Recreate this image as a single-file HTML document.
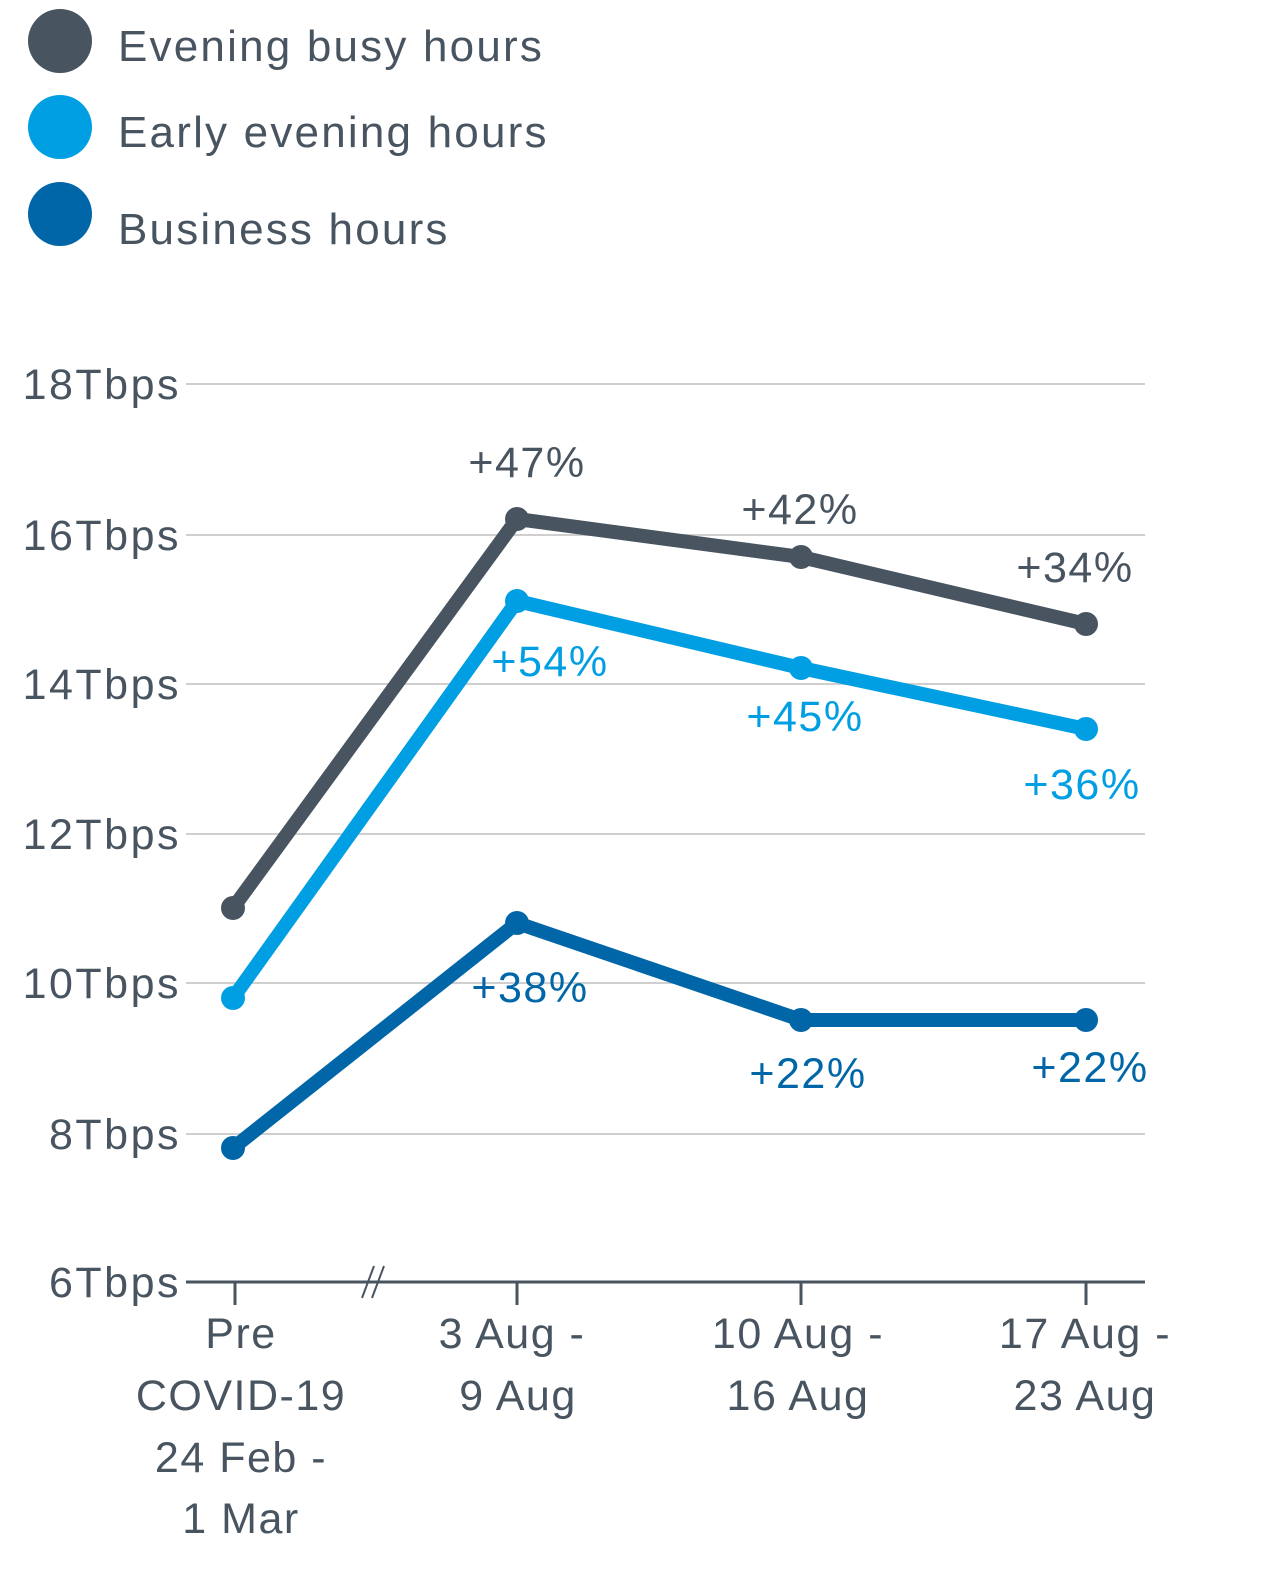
<!DOCTYPE html>
<html><head><meta charset="utf-8"><style>
html,body{margin:0;padding:0;background:#fff;}
svg{display:block;font-family:"Liberation Sans",sans-serif;}
</style></head><body>
<svg width="1280" height="1578" viewBox="0 0 1280 1578" xmlns="http://www.w3.org/2000/svg">
<circle cx="60" cy="41" r="32" fill="#48545f"/>
<circle cx="60" cy="127" r="32" fill="#009fe3"/>
<circle cx="60" cy="214" r="32" fill="#0066a8"/>
<g font-size="44" fill="#48545f" letter-spacing="2.2">
<text x="118" y="61">Evening busy hours</text>
<text x="118" y="147">Early evening hours</text>
<text x="118" y="244">Business hours</text>
</g>
<g stroke="#cfcfcf" stroke-width="2">
<line x1="186" y1="384" x2="1145" y2="384"/>
<line x1="186" y1="535" x2="1145" y2="535"/>
<line x1="186" y1="684" x2="1145" y2="684"/>
<line x1="186" y1="834" x2="1145" y2="834"/>
<line x1="186" y1="983" x2="1145" y2="983"/>
<line x1="186" y1="1134" x2="1145" y2="1134"/>
</g>
<line x1="186" y1="1282" x2="1145" y2="1282" stroke="#48545f" stroke-width="3"/>
<g stroke="#48545f" stroke-width="3">
<line x1="235" y1="1282" x2="235" y2="1305"/>
<line x1="517" y1="1282" x2="517" y2="1305"/>
<line x1="801" y1="1282" x2="801" y2="1305"/>
<line x1="1086" y1="1282" x2="1086" y2="1305"/>
<line x1="362" y1="1298" x2="374" y2="1266" stroke-width="2"/>
<line x1="372" y1="1298" x2="384" y2="1266" stroke-width="2"/>
</g>
<g font-size="43" fill="#48545f" text-anchor="end" letter-spacing="2.5">
<text x="181" y="399">18Tbps</text>
<text x="181" y="550">16Tbps</text>
<text x="181" y="699">14Tbps</text>
<text x="181" y="849">12Tbps</text>
<text x="181" y="998">10Tbps</text>
<text x="181" y="1149">8Tbps</text>
<text x="181" y="1297">6Tbps</text>
</g>
<g font-size="43" fill="#48545f" text-anchor="middle" letter-spacing="1.5">
<text x="241" y="1348">Pre</text>
<text x="241" y="1410">COVID-19</text>
<text x="241" y="1472">24 Feb -</text>
<text x="241" y="1533">1 Mar</text>
<text x="512" y="1348">3 Aug -</text>
<text x="518" y="1410">9 Aug</text>
<text x="798" y="1348">10 Aug -</text>
<text x="798" y="1410">16 Aug</text>
<text x="1085" y="1348">17 Aug -</text>
<text x="1085" y="1410">23 Aug</text>
</g>
<g fill="none" stroke-width="14" stroke-linejoin="round" stroke-linecap="round">
<polyline points="233,908 517,519 801,557 1086,624" stroke="#48545f"/>
<polyline points="233,998 517,601 801,668 1086,729" stroke="#009fe3"/>
<polyline points="233,1148 517,923 801,1020 1086,1020" stroke="#0066a8"/>
</g>
<g fill="#48545f"><circle cx="233" cy="908" r="12"/><circle cx="517" cy="519" r="12"/><circle cx="801" cy="557" r="12"/><circle cx="1086" cy="624" r="12"/></g>
<g fill="#009fe3"><circle cx="233" cy="998" r="12"/><circle cx="517" cy="601" r="12"/><circle cx="801" cy="668" r="12"/><circle cx="1086" cy="729" r="12"/></g>
<g fill="#0066a8"><circle cx="233" cy="1148" r="12"/><circle cx="517" cy="923" r="12"/><circle cx="801" cy="1020" r="12"/><circle cx="1086" cy="1020" r="12"/></g>
<g font-size="43" text-anchor="middle" letter-spacing="1.5">
<text x="527" y="477" fill="#48545f">+47%</text>
<text x="800" y="524" fill="#48545f">+42%</text>
<text x="1075" y="582" fill="#48545f">+34%</text>
<text x="550" y="676" fill="#009fe3">+54%</text>
<text x="805" y="731" fill="#009fe3">+45%</text>
<text x="1082" y="799" fill="#009fe3">+36%</text>
<text x="530" y="1002" fill="#0066a8">+38%</text>
<text x="808" y="1088" fill="#0066a8">+22%</text>
<text x="1090" y="1082" fill="#0066a8">+22%</text>
</g>
</svg>
</body></html>
